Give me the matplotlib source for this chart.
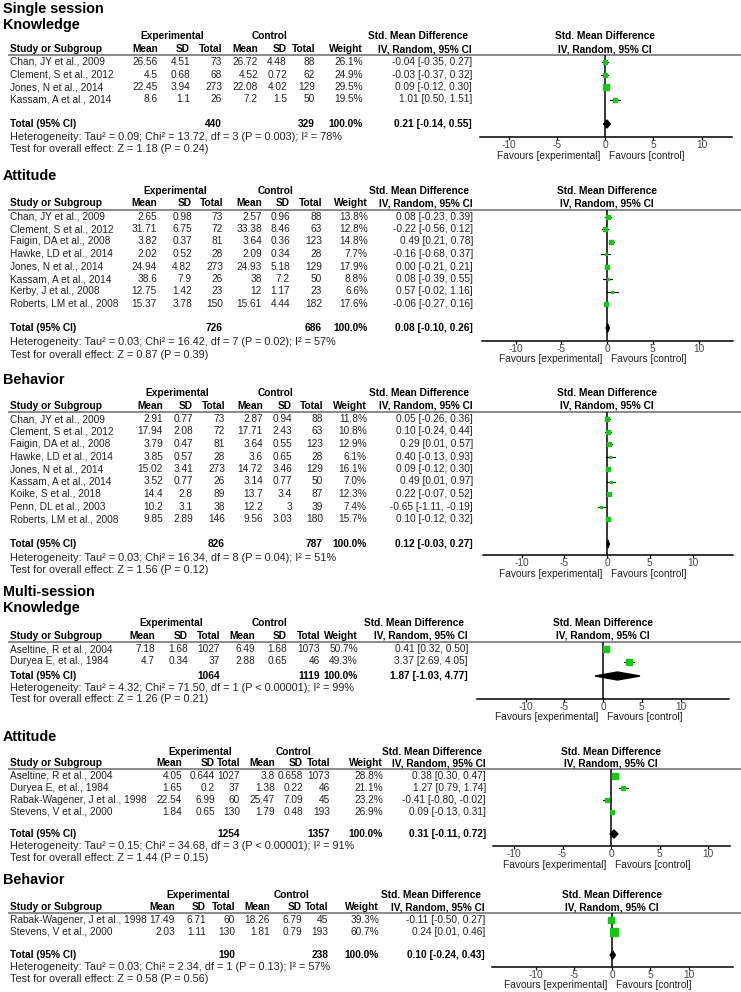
import matplotlib
matplotlib.use("Agg")
import matplotlib.pyplot as plt
from matplotlib.patches import Polygon

plt.rcParams['font.family'] = ['Liberation Sans', 'DejaVu Sans']
plt.rcParams['axes.unicode_minus'] = False

W, H = 741, 992
BODY = 7.3
GREEN = '#14c814'
TXT = '#222222'

# ---------------- data ----------------
# Single session - Knowledge
ssk_study = ["Chan, JY et al., 2009", "Clement, S et al., 2012", "Jones, N et al., 2014", "Kassam, A et al., 2014"]
ssk_exp_mean = [26.56, 4.5, 22.45, 8.6]
ssk_exp_sd = [4.51, 0.68, 3.94, 1.1]
ssk_exp_n = [73, 68, 273, 26]
ssk_ctl_mean = [26.72, 4.52, 22.08, 7.2]
ssk_ctl_sd = [4.48, 0.72, 4.02, 1.5]
ssk_ctl_n = [88, 62, 129, 50]
ssk_weight = [26.1, 24.9, 29.5, 19.5]
ssk_smd = [-0.04, -0.03, 0.09, 1.01]
ssk_lo = [-0.35, -0.37, -0.12, 0.50]
ssk_hi = [0.27, 0.32, 0.30, 1.51]
ssk_total = [440, 329, 0.21, -0.14, 0.55]
ssk_het = "Heterogeneity: Tau² = 0.09; Chi² = 13.72, df = 3 (P = 0.003); I² = 78%"
ssk_test = "Test for overall effect: Z = 1.18 (P = 0.24)"

# Single session - Attitude
ssa_study = ["Chan, JY et al., 2009", "Clement, S et al., 2012", "Faigin, DA et al., 2008", "Hawke, LD et al., 2014",
             "Jones, N et al., 2014", "Kassam, A et al., 2014", "Kerby, J et al., 2008", "Roberts, LM et al., 2008"]
ssa_exp_mean = [2.65, 31.71, 3.82, 2.02, 24.94, 38.6, 12.75, 15.37]
ssa_exp_sd = [0.98, 6.75, 0.37, 0.52, 4.82, 7.9, 1.42, 3.78]
ssa_exp_n = [73, 72, 81, 28, 273, 26, 23, 150]
ssa_ctl_mean = [2.57, 33.38, 3.64, 2.09, 24.93, 38, 12, 15.61]
ssa_ctl_sd = [0.96, 8.46, 0.36, 0.34, 5.18, 7.2, 1.17, 4.44]
ssa_ctl_n = [88, 63, 123, 28, 129, 50, 23, 182]
ssa_weight = [13.8, 12.8, 14.8, 7.7, 17.9, 8.8, 6.6, 17.6]
ssa_smd = [0.08, -0.22, 0.49, -0.16, 0.00, 0.08, 0.57, -0.06]
ssa_lo = [-0.23, -0.56, 0.21, -0.68, -0.21, -0.39, -0.02, -0.27]
ssa_hi = [0.39, 0.12, 0.78, 0.37, 0.21, 0.55, 1.16, 0.16]
ssa_total = [726, 686, 0.08, -0.10, 0.26]
ssa_het = "Heterogeneity: Tau² = 0.03; Chi² = 16.42, df = 7 (P = 0.02); I² = 57%"
ssa_test = "Test for overall effect: Z = 0.87 (P = 0.39)"

# Single session - Behavior
ssb_study = ["Chan, JY et al., 2009", "Clement, S et al., 2012", "Faigin, DA et al., 2008", "Hawke, LD et al., 2014",
             "Jones, N et al., 2014", "Kassam, A et al., 2014", "Koike, S et al., 2018", "Penn, DL et al., 2003",
             "Roberts, LM et al., 2008"]
ssb_exp_mean = [2.91, 17.94, 3.79, 3.85, 15.02, 3.52, 14.4, 10.2, 9.85]
ssb_exp_sd = [0.77, 2.08, 0.47, 0.57, 3.41, 0.77, 2.8, 3.1, 2.89]
ssb_exp_n = [73, 72, 81, 28, 273, 26, 89, 38, 146]
ssb_ctl_mean = [2.87, 17.71, 3.64, 3.6, 14.72, 3.14, 13.7, 12.2, 9.56]
ssb_ctl_sd = [0.94, 2.43, 0.55, 0.65, 3.46, 0.77, 3.4, 3, 3.03]
ssb_ctl_n = [88, 63, 123, 28, 129, 50, 87, 39, 180]
ssb_weight = [11.8, 10.8, 12.9, 6.1, 16.1, 7.0, 12.3, 7.4, 15.7]
ssb_smd = [0.05, 0.10, 0.29, 0.40, 0.09, 0.49, 0.22, -0.65, 0.10]
ssb_lo = [-0.26, -0.24, 0.01, -0.13, -0.12, 0.01, -0.07, -1.11, -0.12]
ssb_hi = [0.36, 0.44, 0.57, 0.93, 0.30, 0.97, 0.52, -0.19, 0.32]
ssb_total = [826, 787, 0.12, -0.03, 0.27]
ssb_het = "Heterogeneity: Tau² = 0.03; Chi² = 16.34, df = 8 (P = 0.04); I² = 51%"
ssb_test = "Test for overall effect: Z = 1.56 (P = 0.12)"

# Multi-session - Knowledge
msk_study = ["Aseltine, R et al., 2004", "Duryea E, et al., 1984"]
msk_exp_mean = [7.18, 4.7]
msk_exp_sd = [1.68, 0.34]
msk_exp_n = [1027, 37]
msk_ctl_mean = [6.49, 2.88]
msk_ctl_sd = [1.68, 0.65]
msk_ctl_n = [1073, 46]
msk_weight = [50.7, 49.3]
msk_smd = [0.41, 3.37]
msk_lo = [0.32, 2.69]
msk_hi = [0.50, 4.05]
msk_total = [1064, 1119, 1.87, -1.03, 4.77]
msk_het = "Heterogeneity: Tau² = 4.32; Chi² = 71.50, df = 1 (P < 0.00001); I² = 99%"
msk_test = "Test for overall effect: Z = 1.26 (P = 0.21)"

# Multi-session - Attitude
msa_study = ["Aseltine, R et al., 2004", "Duryea E, et al., 1984", "Rabak-Wagener, J et al., 1998", "Stevens, V et al., 2000"]
msa_exp_mean = [4.05, 1.65, 22.54, 1.84]
msa_exp_sd = [0.644, 0.2, 6.99, 0.65]
msa_exp_n = [1027, 37, 60, 130]
msa_ctl_mean = [3.8, 1.38, 25.47, 1.79]
msa_ctl_sd = [0.658, 0.22, 7.09, 0.48]
msa_ctl_n = [1073, 46, 45, 193]
msa_weight = [28.8, 21.1, 23.2, 26.9]
msa_smd = [0.38, 1.27, -0.41, 0.09]
msa_lo = [0.30, 0.79, -0.80, -0.13]
msa_hi = [0.47, 1.74, -0.02, 0.31]
msa_total = [1254, 1357, 0.31, -0.11, 0.72]
msa_het = "Heterogeneity: Tau² = 0.15; Chi² = 34.68, df = 3 (P < 0.00001); I² = 91%"
msa_test = "Test for overall effect: Z = 1.44 (P = 0.15)"

# Multi-session - Behavior
msb_study = ["Rabak-Wagener, J et al., 1998", "Stevens, V et al., 2000"]
msb_exp_mean = [17.49, 2.03]
msb_exp_sd = [6.71, 1.11]
msb_exp_n = [60, 130]
msb_ctl_mean = [18.26, 1.81]
msb_ctl_sd = [6.79, 0.79]
msb_ctl_n = [45, 193]
msb_weight = [39.3, 60.7]
msb_smd = [-0.11, 0.24]
msb_lo = [-0.50, 0.01]
msb_hi = [0.27, 0.46]
msb_total = [190, 238, 0.10, -0.24, 0.43]
msb_het = "Heterogeneity: Tau² = 0.03; Chi² = 2.34, df = 1 (P = 0.13); I² = 57%"
msb_test = "Test for overall effect: Z = 0.58 (P = 0.56)"

col_labels = ["Mean", "SD", "Total", "Mean", "SD", "Total", "Weight"]
x_ticks = [-10, -5, 0, 5, 10]


def pack(p):
    g = globals()
    keys = ["study", "exp_mean", "exp_sd", "exp_n", "ctl_mean", "ctl_sd", "ctl_n",
            "weight", "smd", "lo", "hi", "total", "het", "test"]
    return {k: g[p + "_" + k] for k in keys}


# ---------------- layout (pixel positions) ----------------
layouts = [
    dict(titles=[("Single session", 9), ("Knowledge", 25)], h1=36, h2=49, line=55, r0=62, step=12.5,
         tot=124, het=137, test=149, cols=[158, 190, 222, 258, 287, 315, 363], smd_x=472,
         exp_c=172, ctl_c=270, xa=480, xb=732, x0=605, sc=9.65, ax_y=137, fav=156),
    dict(titles=[("Attitude", 176)], h1=191, h2=203, line=210, r0=216.5, step=12.5,
         tot=328, het=342, test=355, cols=[157, 192, 223, 262, 290, 322, 368], smd_x=473,
         exp_c=175, ctl_c=275, xa=482, xb=733, x0=607, sc=9.15, ax_y=341, fav=359),
    dict(titles=[("Behavior", 380)], h1=393, h2=406, line=412, r0=419, step=12.5,
         tot=544, het=558, test=570, cols=[163, 193, 225, 263, 292, 323, 367], smd_x=473,
         exp_c=177, ctl_c=276, xa=483, xb=733, x0=607, sc=8.55, ax_y=555, fav=574),
    dict(titles=[("Multi-session", 592), ("Knowledge", 608)], h1=623, h2=636, line=642, r0=649, step=12.5,
         tot=676, het=688, test=699, cols=[155, 188, 220, 255, 287, 320, 358], smd_x=468,
         exp_c=171, ctl_c=269, xa=477, xb=729, x0=603, sc=7.75, ax_y=699, fav=717),
    dict(titles=[("Attitude", 737)], h1=752, h2=763, line=769, r0=776, step=12,
         tot=834, het=846, test=858, cols=[182, 215, 240, 275, 303, 330, 383], smd_x=486,
         exp_c=200, ctl_c=294, xa=493, xb=730, x0=611, sc=9.7, ax_y=846, fav=865),
    dict(titles=[("Behavior", 880)], h1=895, h2=907, line=913, r0=920, step=12,
         tot=955, het=967, test=979, cols=[175, 206, 235, 270, 302, 328, 379], smd_x=485,
         exp_c=198, ctl_c=292, xa=492, xb=733, x0=612, sc=7.65, ax_y=967, fav=985),
]

fig = plt.figure(figsize=(W / 100, H / 100), dpi=100)
bg = fig.add_axes([0, 0, 1, 1])
bg.set_xlim(0, W)
bg.set_ylim(H, 0)
bg.axis("off")


def t(x, y, s, ha="left", bold=False, size=BODY, color=TXT):
    bg.text(x, y, s, ha=ha, va="center", fontsize=size,
            fontweight="bold" if bold else "normal", color="black" if bold else color)


def draw_panel(d, L):
    for txt, y in L["titles"]:
        t(3, y, txt, bold=True, size=10.4)
    t(L["exp_c"], L["h1"], "Experimental", ha="center", bold=True)
    t(L["ctl_c"], L["h1"], "Control", ha="center", bold=True)
    t(L["smd_x"] - 4, L["h1"], "Std. Mean Difference", ha="right", bold=True)
    t(L["smd_x"], L["h2"], "IV, Random, 95% CI", ha="right", bold=True)
    t(L["x0"], L["h1"], "Std. Mean Difference", ha="center", bold=True)
    t(L["x0"], L["h2"], "IV, Random, 95% CI", ha="center", bold=True)
    t(10, L["h2"], "Study or Subgroup", bold=True)
    for lab, x in zip(col_labels, L["cols"]):
        t(x, L["h2"], lab, ha="right", bold=True)
    bg.plot([8, W], [L["line"], L["line"]], color="#8a8a8a", lw=1.4, solid_capstyle="butt")

    c = L["cols"]
    ys = [L["r0"] + i * L["step"] for i in range(len(d["study"]))]
    for i, y in enumerate(ys):
        t(10, y, d["study"][i])
        vals = [f"{d['exp_mean'][i]:g}", f"{d['exp_sd'][i]:g}", f"{d['exp_n'][i]}",
                f"{d['ctl_mean'][i]:g}", f"{d['ctl_sd'][i]:g}", f"{d['ctl_n'][i]}",
                f"{d['weight'][i]:.1f}%"]
        for v, x in zip(vals, c):
            t(x, y, v, ha="right")
        t(L["smd_x"], y, f"{d['smd'][i]:.2f} [{d['lo'][i]:.2f}, {d['hi'][i]:.2f}]", ha="right")

    ne, nc, est, lo, hi = d["total"]
    t(10, L["tot"], "Total (95% CI)", bold=True)
    t(c[2], L["tot"], f"{ne}", ha="right", bold=True)
    t(c[5], L["tot"], f"{nc}", ha="right", bold=True)
    t(c[6], L["tot"], "100.0%", ha="right", bold=True)
    t(L["smd_x"], L["tot"], f"{est:.2f} [{lo:.2f}, {hi:.2f}]", ha="right", bold=True)
    t(10, L["het"], d["het"], size=7.8)
    t(10, L["test"], d["test"], size=7.8)

    # forest plot
    ax = fig.add_axes([L["xa"] / W, 1 - L["ax_y"] / H, (L["xb"] - L["xa"]) / W, (L["ax_y"] - L["line"]) / H])
    ax.patch.set_alpha(0)
    ax.set_xlim((L["xa"] - L["x0"]) / L["sc"], (L["xb"] - L["x0"]) / L["sc"])
    ax.set_ylim(L["ax_y"], L["line"])
    for s in ["top", "left", "right"]:
        ax.spines[s].set_visible(False)
    ax.spines["bottom"].set_linewidth(1.1)
    ax.axvline(0, color="black", lw=1.1, zorder=1)
    for i, y in enumerate(ys):
        ax.plot([d["lo"][i], d["hi"][i]], [y, y], color="black", lw=0.8, zorder=2)
        side = 0.95 * d["weight"][i] ** 0.5 * 0.72
        ax.plot(d["smd"][i], y, marker="s", ms=side, color=GREEN, mec=GREEN, zorder=3)
    ty = L["tot"]
    ax.add_patch(Polygon([(lo, ty), (est, ty - 4), (hi, ty), (est, ty + 4)],
                         closed=True, color="black", zorder=4))
    ax.set_yticks([])
    ax.set_xticks(x_ticks)
    ax.set_xticklabels([str(v) for v in x_ticks])
    ax.tick_params(axis="x", length=2.5, width=0.9, pad=0, labelsize=BODY, labelcolor="#444444")
    off = -(L["fav"] - L["ax_y"]) * 0.72
    ax.annotate("Favours [experimental]", xy=(0, 0), xycoords=("data", "axes fraction"),
                xytext=(-3, off), textcoords="offset points", ha="right", va="center",
                fontsize=BODY, color=TXT)
    ax.annotate("Favours [control]", xy=(0, 0), xycoords=("data", "axes fraction"),
                xytext=(3, off), textcoords="offset points", ha="left", va="center",
                fontsize=BODY, color=TXT)


for prefix, L in zip(["ssk", "ssa", "ssb", "msk", "msa", "msb"], layouts):
    draw_panel(pack(prefix), L)

fig.savefig("out.png", dpi=100)
